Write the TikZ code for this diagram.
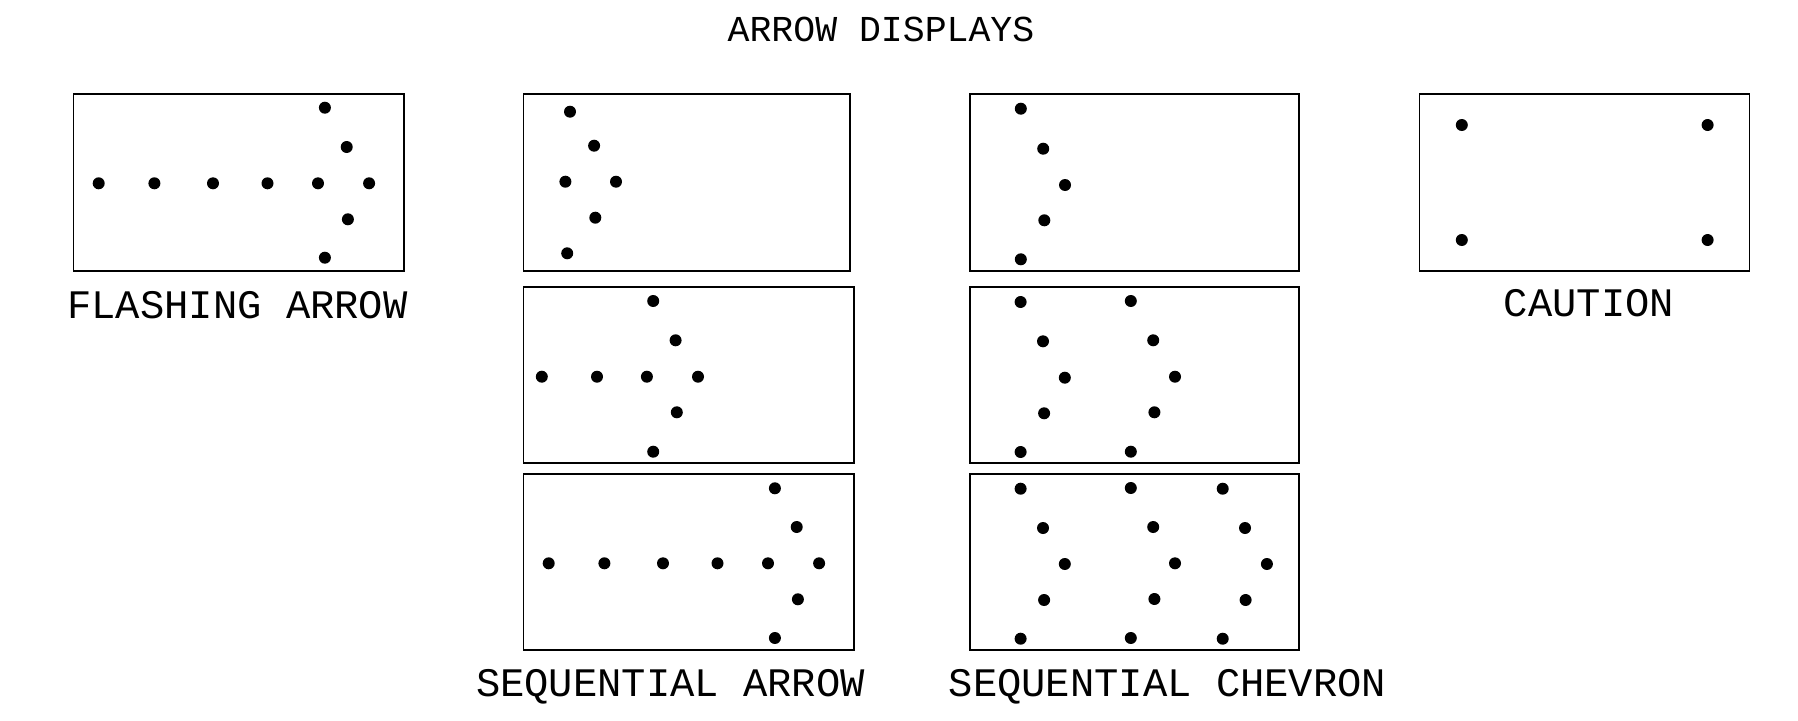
\documentclass[tikz,border=0pt]{standalone}
\usepackage{fontspec}
\newfontfamily\cad{Liberation Mono}
\begin{document}
\begin{tikzpicture}[x=1pt,y=-1pt,
  panel/.style={draw=black,line width=1.8pt},
  lamp/.style={fill=black},
  lbl/.style={anchor=base,inner sep=0pt,font=\cad\fontsize{40.5}{44}\selectfont},
  ttl/.style={anchor=base,inner sep=0pt,font=\cad\fontsize{36.5}{40}\selectfont}]
\useasboundingbox (0,0) rectangle (1798,720);
% title
\node[ttl] (title) at (881,41) {ARROW DISPLAYS};
% panels
\draw[panel] (73.5,94.3) rectangle (403.6,270.7);
\draw[panel] (523.5,94.3) rectangle (850.2,270.7);
\draw[panel] (523.5,287.3) rectangle (853.6,463.3);
\draw[panel] (523.5,474) rectangle (853.6,650.3);
\draw[panel] (969.9,94.3) rectangle (1299.2,270.7);
\draw[panel] (970.1,287.3) rectangle (1299,463.3);
\draw[panel] (970.1,474) rectangle (1299,650.3);
\draw[panel] (1419.5,94.3) rectangle (1749.4,270.7);
% flashing arrow
\foreach \p in {(98.7,183.3),(154.4,183.3),(213,183.3),(267.5,183.3),(318,183.3),(369.1,183.3),
  (324.9,107.7),(346.7,147),(347.9,219.3),(324.9,257.7)}
  \fill[lamp] \p circle (6);
% sequential arrow 1
\foreach \p in {(570,111.7),(594.1,145.7),(565.4,181.7),(616,181.7),(595.3,217.7),(567.2,253.3)}
  \fill[lamp] \p circle (6);
% sequential arrow 2
\foreach \p in {(653.2,301),(675.6,340.3),(541.8,376.7),(597,376.7),(646.9,376.7),(698,376.7),(676.8,412.3),(653.2,451.7)}
  \fill[lamp] \p circle (6);
% sequential arrow 3
\foreach \p in {(774.9,488.3),(796.7,527),(548.7,563.3),(604.4,563.3),(663,563.3),(717.5,563.3),(768,563.3),(819.1,563.3),(797.9,599.3),(774.9,638)}
  \fill[lamp] \p circle (6);
% chevron 1
\foreach \p in {(1020.8,108.7),(1043.2,148.7),(1065,185),(1044.3,220.3),(1020.8,259.3)}
  \fill[lamp] \p circle (6);
% chevron 2
\foreach \p in {(1020.6,302),(1043,341.3),(1064.8,377.7),(1044.1,413.3),(1020.6,452),
  (1130.8,301),(1153.2,340.3),(1175,376.7),(1154.4,412.3),(1130.8,451.7)}
  \fill[lamp] \p circle (6);
% chevron 3
\foreach \p in {(1020.6,488.7),(1043,528),(1064.8,564),(1044.1,600),(1020.6,638.7),
  (1130.8,488),(1153.2,527),(1175,563.3),(1154.4,599),(1130.8,638),
  (1222.7,488.7),(1245,528),(1266.9,564),(1245.6,600),(1222.7,638.7)}
  \fill[lamp] \p circle (6);
% caution
\foreach \p in {(1461.8,125),(1707.6,125),(1461.8,240),(1707.6,240)}
  \fill[lamp] \p circle (6);
% labels
\node[lbl] (flash) at (237.5,318.3) {FLASHING ARROW};
\node[lbl] (caution) at (1589,316) {CAUTION};
\node[lbl] (seqarrow) at (670.5,696.5) {SEQUENTIAL ARROW};
\node[lbl] (seqchev) at (1167.5,696) {SEQUENTIAL CHEVRON};
\end{tikzpicture}
\end{document}
